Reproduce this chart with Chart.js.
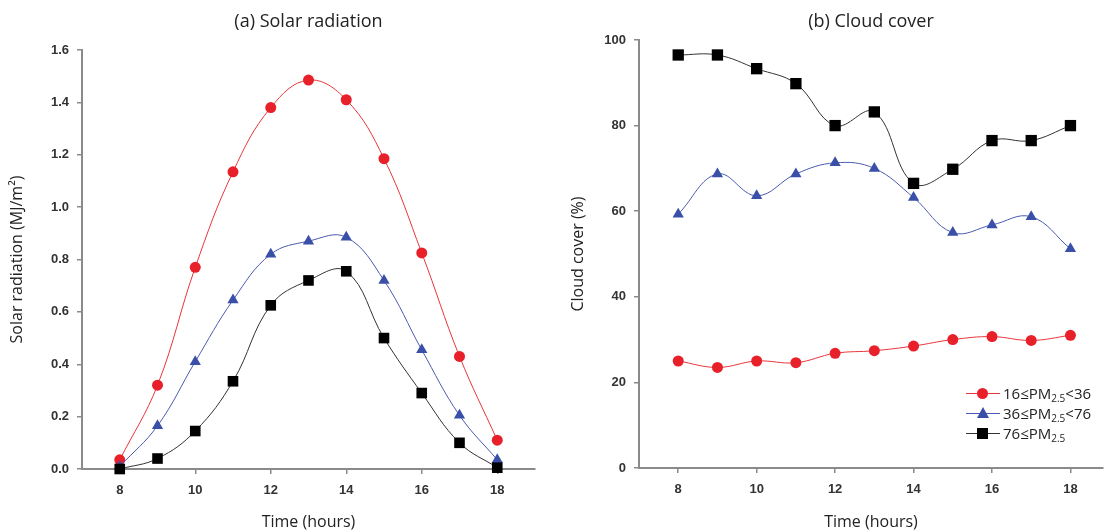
<!DOCTYPE html>
<html>
<head>
<meta charset="utf-8">
<script src="https://cdn.jsdelivr.net/npm/chart.js@4.4.1/dist/chart.umd.min.js"></script>
<style>
  body { margin: 0; background: #fff; width: 1111px; height: 532px; overflow: hidden; position: relative; font-family: "Open Sans", sans-serif; }
  #solar { position: absolute; left: 0; top: 0; }
  #cloud { position: absolute; left: 545px; top: 0; }
  #legend { position: absolute; left: 966px; top: 383px; font-size: 15px; color: #222; }
  #legend div { height: 20px; line-height: 20px; white-space: nowrap; }
  .key { display: inline-block; position: relative; width: 34px; height: 20px; vertical-align: top; margin-right: 3px; }
  .key .ln { position: absolute; left: 0; right: 0; top: 10px; height: 1px; }
  .key .mk { position: absolute; }
  sub { font-size: 10px; vertical-align: -3px; line-height: 0; }
</style>
</head>
<body>
<canvas id="solar" width="545" height="532"></canvas>
<canvas id="cloud" width="566" height="532"></canvas>
<div id="legend">
  <div><span class="key"><span class="ln" style="background:#e8353b"></span><span class="mk" style="left:11px;top:5px;width:11px;height:11px;border-radius:50%;background:#e8202a"></span></span>16≤PM<sub>2.5</sub>&lt;36</div>
  <div><span class="key"><span class="ln" style="background:#4a5ab0"></span><span class="mk" style="left:11px;top:4px;width:0;height:0;border-left:6px solid transparent;border-right:6px solid transparent;border-bottom:11px solid #3a4fa8"></span></span>36≤PM<sub>2.5</sub>&lt;76</div>
  <div><span class="key"><span class="ln" style="background:#333"></span><span class="mk" style="left:11px;top:5px;width:11px;height:11px;background:#000"></span></span>76≤PM<sub>2.5</sub></div>
</div>
<script>
const hours = [8, 9, 10, 11, 12, 13, 14, 15, 16, 17, 18];
const xTicks = [8, 10, 12, 14, 16, 18];

// (a) solar radiation, MJ/m2
const solarLow = [0.035, 0.32, 0.77, 1.135, 1.38, 1.485, 1.41, 1.185, 0.825, 0.43, 0.11];
const solarMid = [0.01, 0.165, 0.41, 0.645, 0.82, 0.87, 0.885, 0.72, 0.455, 0.205, 0.035];
const solarHigh = [0.0, 0.04, 0.145, 0.335, 0.625, 0.72, 0.755, 0.5, 0.29, 0.1, 0.005];

// (b) cloud cover, %
const cloudLow = [25, 23.5, 25, 24.6, 26.8, 27.4, 28.5, 30, 30.7, 29.8, 31];
const cloudMid = [59.3, 68.7, 63.6, 68.7, 71.3, 70, 63.2, 55, 56.8, 58.7, 51.2];
const cloudHigh = [96.5, 96.5, 93.3, 89.8, 80, 83.2, 66.5, 69.8, 76.5, 76.5, 80];

const tickFont = { family: "Liberation Sans", size: 13, weight: "bold" };
const labelFont = { family: "Open Sans", size: 16 };
const axisColor = "#8a8a8a";

function pts(vals) {
  return hours.map((h, i) => ({ x: h, y: vals[i] }));
}

function sets(low, mid, high, big) {
  return [
    { data: pts(low), borderColor: "#e8353b", backgroundColor: "#e8202a", pointStyle: "circle", pointRadius: 5.5, order: 2 },
    { data: pts(mid), borderColor: "#4a5ab0", backgroundColor: "#3a4fa8", pointStyle: "triangle", pointRadius: 6.5, order: 1 },
    { data: pts(high), borderColor: "#333", backgroundColor: "#000", pointStyle: "rect", pointRadius: big ? 8 : 7.5, order: 0 }
  ].map(d => Object.assign(d, {
    borderWidth: 1, tension: 0.4, pointBorderWidth: 0, pointBorderColor: d.backgroundColor, clip: false
  }));
}

function opts(o) {
  return {
    responsive: false,
    animation: false,
    layout: { padding: { top: 0, left: 0, right: o.padRight, bottom: 0 } },
    plugins: {
      legend: { display: false },
      tooltip: { enabled: false },
      title: {
        display: true, text: o.title, fullSize: false, color: "#222",
        font: { family: "Open Sans", size: 18, weight: "normal" },
        padding: { top: 11.2, bottom: o.titleGap }
      }
    },
    scales: {
      x: {
        type: "linear", min: 7, max: o.xMax,
        afterBuildTicks: s => { s.ticks = xTicks.map(v => ({ value: v })); },
        afterFit: s => { s.height = o.xHeight; },
        ticks: { font: tickFont, color: "#333", padding: 9 },
        grid: { drawOnChartArea: false, tickLength: 5, color: axisColor, lineWidth: 1.5 },
        border: { color: axisColor, width: 2 },
        title: { display: true, text: "Time (hours)", color: "#222", font: labelFont, padding: { top: 0, bottom: 0 } }
      },
      y: {
        min: o.yMin, max: o.yMax,
        afterFit: s => { s.width = o.yWidth; },
        ticks: { stepSize: o.yStep, font: tickFont, color: "#333", padding: 8, callback: o.fmt },
        grid: { drawOnChartArea: false, tickLength: 5, color: axisColor, lineWidth: 1.5 },
        border: { color: axisColor, width: 2 },
        title: { display: true, text: o.yTitle, color: "#222", font: labelFont, padding: { top: o.yTitlePad, bottom: 0 } }
      }
    }
  };
}

new Chart(document.getElementById("solar"), {
  type: "line",
  data: { datasets: sets(solarLow, solarMid, solarHigh, false) },
  options: opts({
    title: "(a) Solar radiation", padRight: 10, titleGap: 17.2, xMax: 19, xHeight: 63,
    yMin: 0, yMax: 1.6, yStep: 0.2, yWidth: 82, yTitlePad: 7.4,
    yTitle: "Solar radiation (MJ/m²)", fmt: v => v.toFixed(1)
  })
});

new Chart(document.getElementById("cloud"), {
  type: "line",
  data: { datasets: sets(cloudLow, cloudMid, cloudHigh, true) },
  options: opts({
    title: "(b) Cloud cover", padRight: 0, titleGap: 7.2, xMax: 18.83, xHeight: 64,
    yMin: 0, yMax: 100, yStep: 20, yWidth: 94, yTitlePad: 23.4,
    yTitle: "Cloud cover (%)", fmt: v => v
  })
});
</script>
</body>
</html>
